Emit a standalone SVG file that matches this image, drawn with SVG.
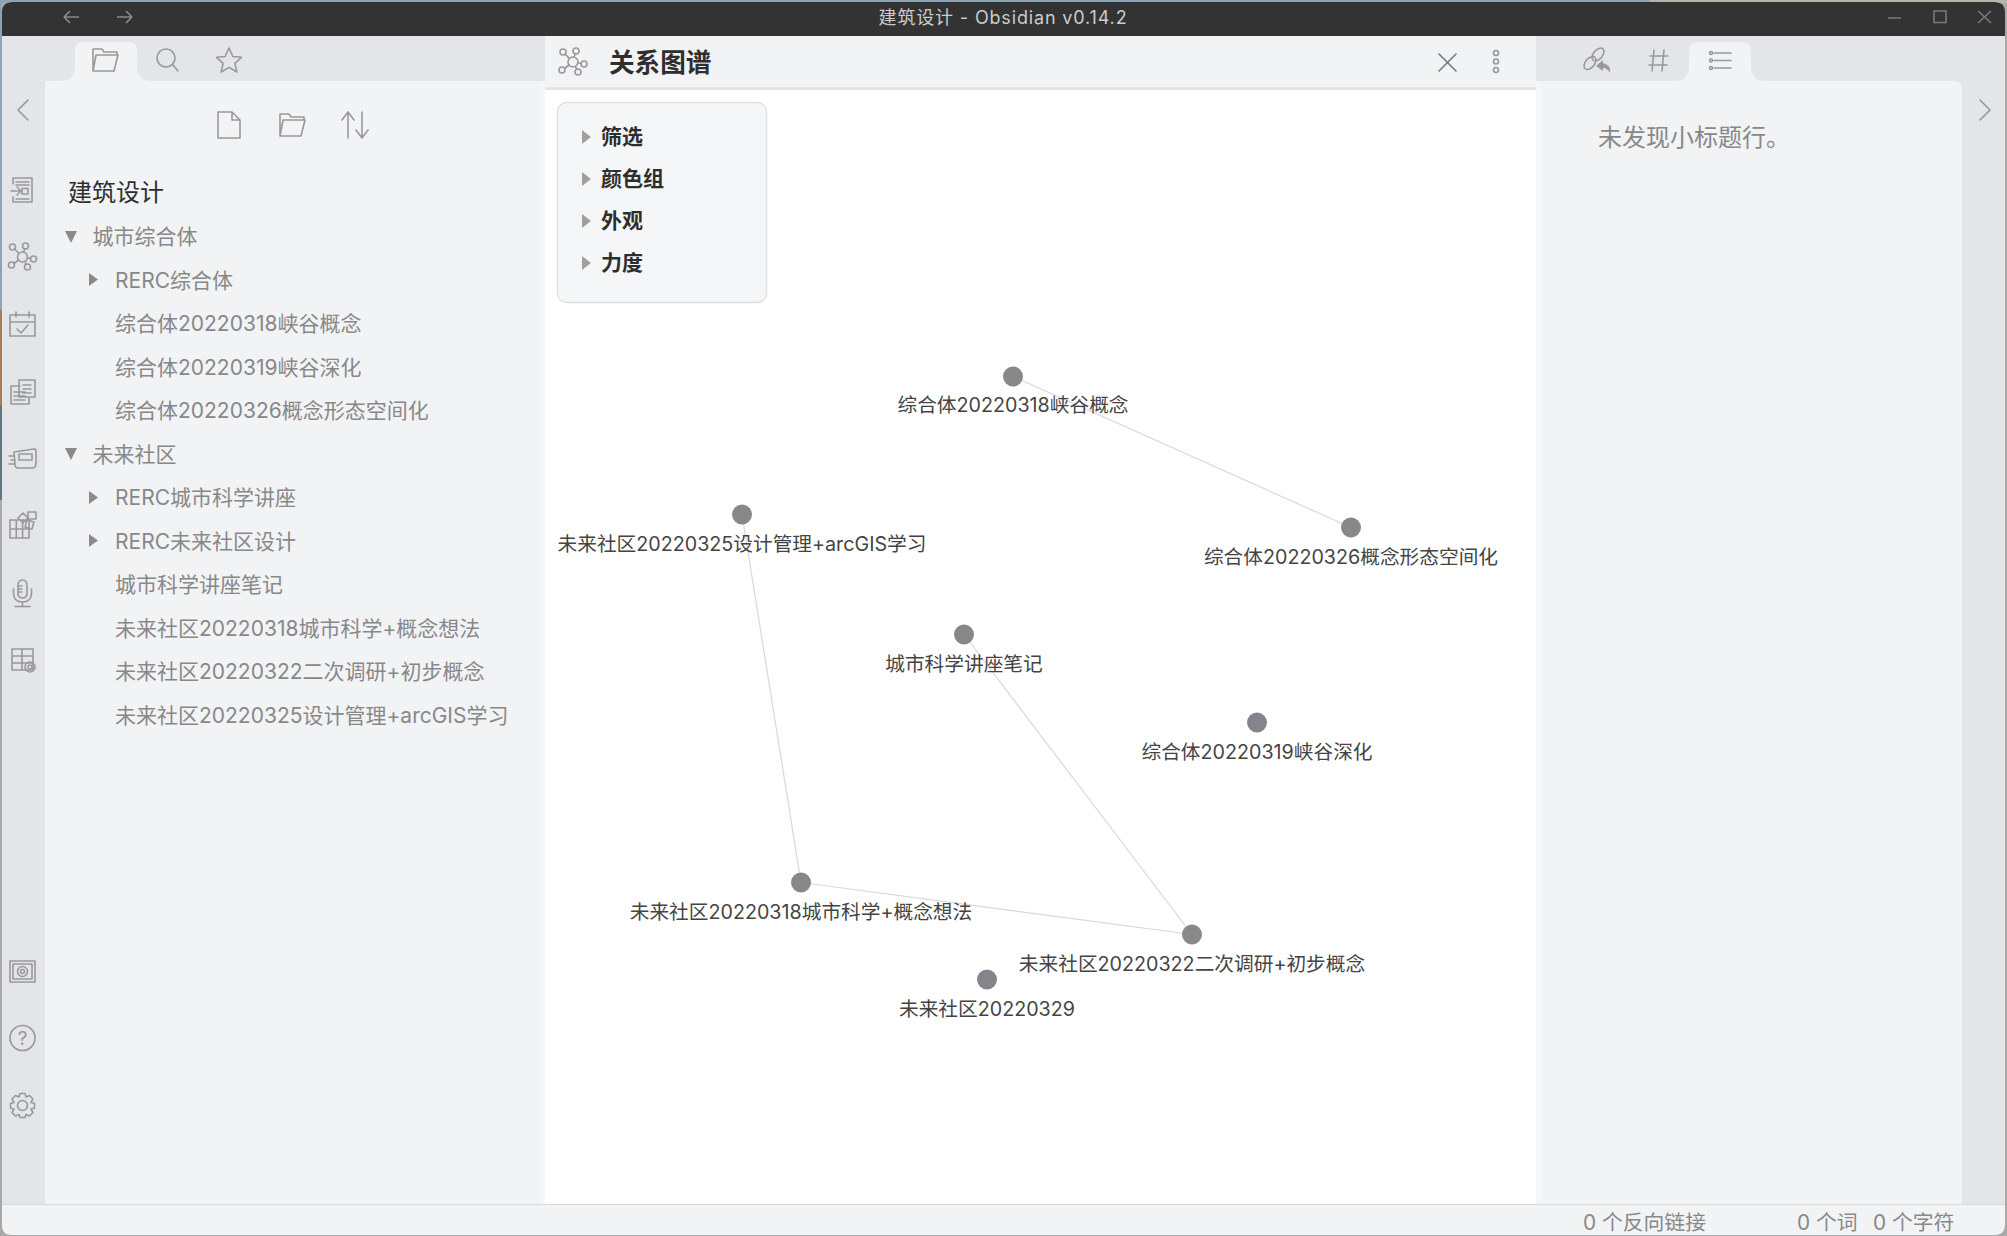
<svg xmlns="http://www.w3.org/2000/svg" width="2007" height="1236" viewBox="0 0 2007 1236">
<style>
text{font-family:"Inter","Noto Sans CJK SC","Noto Sans",sans-serif}
.side{font-size:21px;fill:#888}
.lab{font-size:19.7px;fill:#444;text-anchor:middle}
.ctl{font-size:21px;font-weight:700;fill:#2e2e2e}
.status{font-size:20.8px;fill:#888}
.ic{fill:none;stroke:#999;stroke-width:1.6;stroke-linecap:round;stroke-linejoin:round}
.tri{fill:#8a8a8a}
.tri2{fill:#a0a0a0}
.edge{stroke:#d8d8d8;stroke-width:1.2;fill:none}
.node{fill:#888}
.win{fill:none;stroke:#7a7a7a;stroke-width:1.6}
</style>
<defs>
<g id="i-graph"><circle cx="0" cy="0" r="5"/><circle cx="-10" cy="-10" r="3"/><circle cx="3" cy="-11" r="3"/><circle cx="11" cy="2" r="3"/><circle cx="5" cy="10" r="3"/><circle cx="-11" cy="8" r="3"/><path d="M-3.500-3.500L-8-8M1-5L2.500-8M5 1L8 1.500M2.500 4.500L3.800 7.300M-4 3L-8.500 6.500"/></g>
<g id="i-folder"><path d="M-12 11V-11H-3L-1-8H12V-5M-12 11H9L13-5H-9L-12 11"/></g>
</defs>
<rect width="2007" height="1236" fill="#a9a9a9"/>
<rect x="0" y="0" width="1650" height="3" fill="#8fa4b3"/>
<rect x="1650" y="0" width="357" height="3" fill="#b9b5ad"/>
<rect x="0" y="0" width="2" height="310" fill="#8fa4b3"/>
<rect x="0" y="310" width="2" height="95" fill="#a87d52"/>
<rect x="0" y="405" width="2" height="95" fill="#66747f"/>
<path d="M2 1226V12Q2 2 12 2H1995Q2005 2 2005 12V1224Q2005 1235 1995 1235H12Q2 1235 2 1226Z" fill="#f2f3f5"/>
<path d="M2 36V12Q2 2 12 2H1995Q2005 2 2005 12V36Z" fill="#333"/>
<path class="win" style="stroke:#8a8a8a" d="M64 17H79M64 17L70 11M64 17L70 23M132 17H117M132 17L126 11M132 17L126 23"/>
<text x="1003" y="24" text-anchor="middle" font-size="18" fill="#ccc" letter-spacing=".85">建筑设计 - Obsidian v0.14.2</text>
<path class="win" d="M1888 18H1901M1934 11H1946V22.500H1934ZM1978 11L1991 23M1991 11L1978 23"/>
<rect x="2" y="36" width="43" height="1169" fill="#e3e5e8"/>
<rect x="45" y="36" width="500" height="45" fill="#e3e5e8"/>
<rect x="1536" y="36" width="469" height="1169" fill="#e3e5e8"/>
<rect x="539" y="81" width="6" height="1124" fill="#f5f6f7"/>
<path d="M45 1205V89Q45 81 53 81H539V1205Z" fill="#f2f3f5"/>
<path d="M60 81Q75 81 75 66V50Q75 42 83 42H129Q137 42 137 50V66Q137 81 152 81Z" fill="#f2f3f5"/>
<path d="M1536 81H1542V1205H1536Z" fill="#f5f6f7"/>
<path d="M1542 1205V81H1954Q1962 81 1962 89V1205Z" fill="#f2f3f5"/>
<path d="M1674 81Q1689 81 1689 66V50Q1689 42 1697 42H1743Q1751 42 1751 50V66Q1751 81 1766 81Z" fill="#f2f3f5"/>
<rect x="545" y="87" width="991" height="1118" fill="#fff"/>
<path d="M545 87V44Q545 37 552 37H1529Q1536 37 1536 44V87Z" fill="#f2f3f5"/>
<rect x="545" y="87" width="991" height="3" fill="#e3e5e8"/>
<rect x="2" y="1204" width="2003" height="1" fill="#d8dade"/>
<use href="#i-folder" class="ic" x="105" y="60"/>
<g class="ic"><circle cx="166" cy="58" r="9"/><path d="M172.500 64.500L178 71"/></g>
<path class="ic" d="M229 48L232.800 56.500L241.500 57.300L234.900 63.300L236.800 72L229 67.400L221.200 72L223.100 63.300L216.500 57.300L225.200 56.500Z"/>
<path class="ic" d="M218 112H232L240 120V138H218ZM232 112V120H240"/>
<use href="#i-folder" class="ic" x="292" y="125"/>
<path class="ic" d="M348 138V112M342 120L348 112L354 120M362 112V138M356 130L362 138L368 130"/>
<path class="ic" d="M28 100L18 110L28 120"/>
<path class="ic" d="M1980 100L1990 110L1980 120"/>
<g class="ic">
<path d="M13 184V178H32V202H13V197M11 191H21M17 187L21 191L17 195M22 188.500H28V194H22ZM16 182H29M16 185H29M16 199H29"/>
<use href="#i-graph" x="22.500" y="257"/>
<path d="M10 315H35V336H10ZM10 322H35M16 312V317M29 312V317M17 329L21 333L28 325"/>
<path d="M20 386H11V404H29V397M19 380H35V397H19ZM14 392H25M14 396H25M14 400H25M23 385H31M23 389H31M23 393H31"/>
<path d="M14 452L34 449Q36 449 36 451V463Q36 468 32 468H18Q15 468 15 464ZM19 454H32V460H19ZM9 456H14M11 460H15M9 464H15"/>
<path d="M10 520H29V538H10ZM10 529H29M16.300 520V538M22.600 520V538M18 518L23 513L28 518L23 523ZM27 520L34 522L32 529L25 527ZM28 512H36V519H28Z"/>
<path d="M18 586Q18 580 22.500 580Q27 580 27 586V593Q27 598 22.500 598Q18 598 18 593ZM13.500 589V593Q13.500 602 22.500 602Q31.500 602 31.500 593V589M22.500 602V606M15 606.500H30M18 586H22M18 589H22M18 592H22"/>
<path d="M12 649H33V670H12ZM12 656H33M12 663H33M22 649V670"/>
<circle cx="30" cy="667" r="2"/><circle cx="30" cy="667" r="5"/>
<path d="M10 961H35V982H10ZM13 964H32V979H13Z"/><circle cx="22.500" cy="971.500" r="5"/><circle cx="22.500" cy="971.500" r="2"/>
<circle cx="22.500" cy="1038" r="12.500"/>
<g transform="translate(0 1.500)"><circle cx="22.500" cy="1104" r="5"/>
<path d="M20 1092H25L26 1095.500L29.500 1094L33 1097.500L31 1101L34.500 1102V1106.500L31 1107.500L33 1111L29.500 1114.500L26 1113L25 1116H20L19 1113L15.500 1114.500L12 1111L14 1107.500L10.500 1106.500V1102L14 1101L12 1097.500L15.500 1094L19 1095.500Z"/></g>
</g>
<text x="22.500" y="1045" text-anchor="middle" font-size="19" fill="#999">?</text>
<text x="68" y="201" font-size="24" fill="#2e2e2e">建筑设计</text>
<path class="tri" d="M65 231H77L71 243Z"/><text class="side" x="92.500" y="244.300">城市综合体</text>
<path class="tri" d="M89 273L98 279.500L89 286Z"/><text class="side" x="115" y="287.700">RERC综合体</text>
<text class="side" x="115" y="331.200">综合体20220318峡谷概念</text>
<text class="side" x="115" y="374.700">综合体20220319峡谷深化</text>
<text class="side" x="115" y="418.200">综合体20220326概念形态空间化</text>
<path class="tri" d="M65 448H77L71 460Z"/><text class="side" x="92.500" y="461.700">未来社区</text>
<path class="tri" d="M89 491L98 497.500L89 504Z"/><text class="side" x="115" y="505.200">RERC城市科学讲座</text>
<path class="tri" d="M89 534L98 540.500L89 547Z"/><text class="side" x="115" y="548.700">RERC未来社区设计</text>
<text class="side" x="115" y="592.200">城市科学讲座笔记</text>
<text class="side" x="115" y="635.700">未来社区20220318城市科学+概念想法</text>
<text class="side" x="115" y="679.200">未来社区20220322二次调研+初步概念</text>
<text class="side" x="115" y="722.700">未来社区20220325设计管理+arcGIS学习</text>
<use href="#i-graph" class="ic" x="573" y="62"/>
<text x="609" y="71.500" font-size="25.600" font-weight="700" fill="#2e2e2e">关系图谱</text>
<path class="ic" style="stroke:#777" d="M1439 54L1456 71M1456 54L1439 71"/>
<g class="ic"><circle cx="1496" cy="53" r="2.500"/><circle cx="1496" cy="61.500" r="2.500"/><circle cx="1496" cy="70" r="2.500"/></g>
<g class="ic"><ellipse cx="1590" cy="63" rx="7.500" ry="4.500" transform="rotate(-50 1590 63)"/><ellipse cx="1598" cy="54.500" rx="7.500" ry="4.500" transform="rotate(-50 1598 54.500)"/></g>
<path fill="#999" d="M1596 66L1603 60V63Q1611 65 1610 73Q1607 68 1603 68V71Z"/>
<path class="ic" d="M1654 50L1652 71M1664 50L1662 71M1650 56H1668M1649 65H1667"/>
<path class="ic" d="M1714 53H1731M1714 60.500H1731M1714 68H1731"/>
<g class="ic"><circle cx="1711" cy="53" r="1.500"/><circle cx="1711" cy="60.500" r="1.500"/><circle cx="1711" cy="68" r="1.500"/></g>
<text x="1598" y="145.500" font-size="24" fill="#888">未发现小标题行。</text>
<text class="status" x="1583" y="1230">0 个反向链接</text>
<text class="status" x="1797" y="1230">0 个词</text>
<text class="status" x="1873" y="1230">0 个字符</text>
<g id="graph-controls">
<rect x="557.500" y="102.500" width="209" height="200" rx="9" fill="#f5f6f8" stroke="#dedfe2" stroke-width="1.300"/>
<path class="tri2" d="M582 130L591 137L582 144Z"/><text class="ctl" x="601" y="143.800">筛选</text>
<path class="tri2" d="M582 172L591 179L582 186Z"/><text class="ctl" x="601" y="185.800">颜色组</text>
<path class="tri2" d="M582 214L591 221L582 228Z"/><text class="ctl" x="601" y="227.800">外观</text>
<path class="tri2" d="M582 256L591 263L582 270Z"/><text class="ctl" x="601" y="269.800">力度</text>
</g>
<g id="connectors">
<path class="edge" d="M1013 376.500L1351 527.500"/>
<path class="edge" d="M742 514.500L801 882.500"/>
<path class="edge" d="M964 634.500L1192 934.500"/>
<path class="edge" d="M801 882.500L1192 934.500"/>
</g>
<g id="n1"><circle class="node" cx="1013" cy="376.500" r="10"/><text class="lab" x="1013" y="412">综合体20220318峡谷概念</text></g>
<g id="n2"><circle class="node" cx="1351" cy="527.500" r="10"/><text class="lab" x="1351" y="564">综合体20220326概念形态空间化</text></g>
<g id="n3"><circle class="node" cx="742" cy="514.500" r="10"/><text class="lab" x="742" y="551">未来社区20220325设计管理+arcGIS学习</text></g>
<g id="n4"><circle class="node" cx="964" cy="634.500" r="10"/><text class="lab" x="964" y="671">城市科学讲座笔记</text></g>
<g id="n5"><circle class="node" cx="1257" cy="722.500" r="10" style="fill:#84848c"/><text class="lab" x="1257" y="759">综合体20220319峡谷深化</text></g>
<g id="n6"><circle class="node" cx="801" cy="882.500" r="10"/><text class="lab" x="801" y="919">未来社区20220318城市科学+概念想法</text></g>
<g id="n7"><circle class="node" cx="1192" cy="934.500" r="10"/><text class="lab" x="1192" y="971">未来社区20220322二次调研+初步概念</text></g>
<g id="n8"><circle class="node" cx="987" cy="979.500" r="10" style="fill:#84848c"/><text class="lab" x="987" y="1016">未来社区20220329</text></g>
</svg>
